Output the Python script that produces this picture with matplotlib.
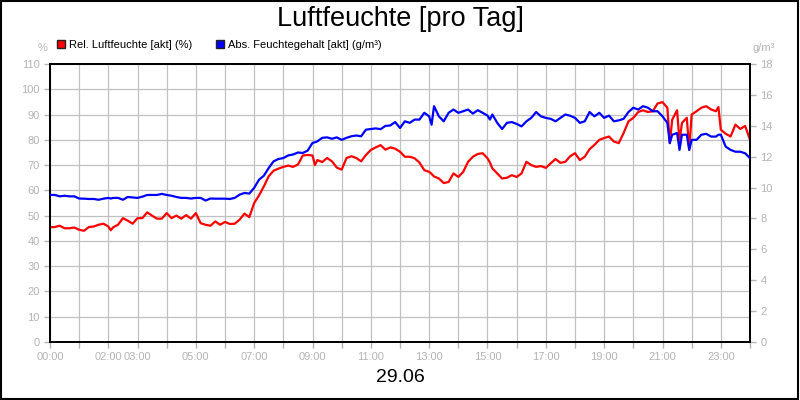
import matplotlib
matplotlib.use("Agg")
import matplotlib.pyplot as plt
from matplotlib.lines import Line2D
from matplotlib.patches import Rectangle
import numpy as np

plt.rcParams["font.family"] = ["Liberation Sans", "DejaVu Sans"]

# minutes since midnight
minutes = [
    0, 10, 20, 30, 40, 50, 60, 70, 80, 90, 100, 110, 120, 125, 130, 140, 150, 160, 170,
    180, 190, 200, 210, 220, 230, 240, 250, 260, 270, 280, 290, 300, 310, 320, 330, 340,
    350, 360, 370, 380, 390, 400, 410, 420, 430, 440, 450, 460, 470, 480, 490, 500, 510,
    520, 530, 540, 545, 550, 560, 570, 580, 590, 600, 610, 620, 630, 640, 650, 660, 670,
    680, 690, 700, 710, 720, 730, 740, 750, 760, 770, 780, 785, 790, 800, 810, 820, 830,
    840, 850, 860, 870, 880, 890, 900, 905, 910, 920, 930, 940, 950, 960, 970, 980, 990,
    1000, 1010, 1020, 1030, 1040, 1050, 1060, 1070, 1080, 1090, 1100, 1110, 1120, 1130,
    1140, 1150, 1160, 1170, 1180, 1190, 1200, 1210, 1220, 1230, 1240, 1250, 1260, 1270,
    1275, 1280, 1290, 1295, 1300, 1310, 1315, 1320, 1330, 1340, 1350, 1360, 1370, 1375,
    1380, 1390, 1400, 1410, 1420, 1430, 1440,
]

# relative humidity (%)
rel_humidity = [
    45.4, 45.5, 46.0, 45.0, 45.0, 45.3, 44.4, 44.0, 45.5, 45.7, 46.4, 46.8, 45.7, 44.2, 45.4,
    46.4, 49.0, 48.0, 46.8, 49.0, 49.0, 51.3, 50.0, 48.8, 48.8, 51.0, 49.0, 50.0, 48.8, 50.2,
    48.8, 51.0, 47.0, 46.4, 46.0, 47.7, 46.4, 47.5, 46.7, 46.8, 48.4, 50.8, 49.4, 55.0, 58.0,
    61.6, 65.6, 67.8, 68.6, 69.3, 69.8, 69.3, 70.2, 73.8, 74.0, 73.8, 70.0, 72.0, 71.2, 72.8,
    71.5, 69.0, 68.2, 72.8, 73.5, 72.8, 71.5, 74.0, 76.0, 77.0, 77.9, 76.1, 77.0, 76.5, 75.3,
    73.3, 73.3, 72.7, 71.0, 68.0, 67.3, 66.5, 65.5, 64.7, 62.9, 63.3, 66.7, 65.3, 67.3, 71.3,
    73.3, 74.4, 74.7, 72.7, 71.0, 68.7, 66.7, 64.7, 65.0, 66.0, 65.3, 66.7, 71.3, 70.0, 69.3,
    69.6, 68.9, 70.7, 72.4, 70.9, 71.3, 73.5, 74.7, 72.0, 73.3, 76.3, 78.0, 80.0, 80.7, 81.3,
    79.3, 78.7, 82.7, 87.3, 88.7, 91.0, 91.7, 91.0, 91.3, 94.4, 94.9, 92.7, 78.7, 88.0, 91.7,
    79.3, 86.7, 88.7, 76.0, 90.0, 91.3, 92.7, 93.3, 92.0, 91.3, 93.0, 84.0, 82.4, 81.3, 86.0,
    84.3, 85.5, 80.0,
]

# absolute moisture content (g/m³)
abs_moisture = [
    9.52, 9.52, 9.43, 9.47, 9.43, 9.43, 9.29, 9.28, 9.26, 9.26, 9.21, 9.28, 9.33, 9.29, 9.33,
    9.33, 9.21, 9.39, 9.36, 9.33, 9.41, 9.52, 9.52, 9.52, 9.59, 9.52, 9.47, 9.39, 9.33, 9.33,
    9.29, 9.33, 9.33, 9.16, 9.29, 9.28, 9.28, 9.28, 9.26, 9.33, 9.54, 9.65, 9.61, 9.98, 10.51,
    10.77, 11.27, 11.70, 11.85, 11.91, 12.08, 12.14, 12.27, 12.24, 12.39, 12.89, 12.93, 12.99,
    13.22, 13.25, 13.16, 13.25, 13.09, 13.22, 13.32, 13.37, 13.32, 13.75, 13.79, 13.83, 13.78,
    13.99, 14.02, 14.24, 13.86, 14.29, 14.19, 14.40, 14.40, 14.84, 14.61, 14.07, 15.27, 14.61,
    14.29, 14.84, 15.05, 14.84, 14.94, 15.05, 14.79, 15.01, 14.84, 14.66, 14.40, 14.73, 14.19,
    13.79, 14.19, 14.24, 14.12, 13.96, 14.29, 14.51, 14.89, 14.61, 14.51, 14.45, 14.29, 14.51,
    14.73, 14.65, 14.51, 14.19, 14.29, 14.89, 14.61, 14.84, 14.51, 14.66, 14.29, 14.35, 14.45,
    14.89, 15.17, 15.05, 15.27, 15.17, 14.94, 14.94, 14.61, 14.19, 12.88, 13.42, 13.53, 12.44,
    13.42, 13.42, 12.44, 13.09, 13.09, 13.42, 13.48, 13.30, 13.30, 13.42, 13.42, 12.65, 12.44,
    12.32, 12.32, 12.22, 11.90,
]

hour_labels = {0: "00:00", 2: "02:00", 3: "03:00", 5: "05:00", 7: "07:00", 9: "09:00",
               11: "11:00", 13: "13:00", 15: "15:00", 17: "17:00", 19: "19:00",
               21: "21:00", 23: "23:00"}

grey = "#b4b4b4"
hours = np.array(minutes) / 60.0

fig = plt.figure(figsize=(8, 4), dpi=100)
fig.patches.append(Rectangle((0.001, 0.002), 0.997, 0.995, transform=fig.transFigure,
                             fill=False, edgecolor="black", linewidth=1.5))
ax = fig.add_axes([0.0625, 0.145, 0.875, 0.695])
ax2 = ax.twinx()

ax.plot(hours, rel_humidity, color="#ff0000", linewidth=1.6, zorder=3)
ax2.plot(hours, abs_moisture, color="#0000ff", linewidth=1.6, zorder=3)

ax.set_xlim(0, 24)
ax.set_ylim(0, 110)
ax2.set_ylim(0, 18)
ax.set_yticks(np.arange(0, 111, 10))
ax2.set_yticks(np.arange(0, 19, 2))
ax.set_xticks(np.arange(0, 25, 1))
ax.set_xticklabels([hour_labels.get(h, "") for h in range(25)])
ax.grid(True, color="#c0c0c0", linewidth=0.9)
ax.set_axisbelow(True)

for a in (ax, ax2):
    a.tick_params(colors=grey, labelcolor=grey, labelsize=8, length=4, width=1)
    for s in a.spines.values():
        s.set_color("black")
        s.set_linewidth(1.3)
ax.tick_params(axis="x", pad=3)

fig.text(0.5, 0.952, "Luftfeuchte [pro Tag]", ha="center", va="center", fontsize=19.5)
fig.text(0.5, 0.055, "29.06", ha="center", va="center", fontsize=14)
fig.text(0.053, 0.88, "%", ha="center", va="center", fontsize=8, color=grey)
fig.text(0.955, 0.88, "g/m³", ha="center", va="center", fontsize=8, color=grey)

handles = [
    Line2D([], [], marker="s", linestyle="none", markersize=6, markerfacecolor="#ff0000",
           markeredgecolor="#202020", label="Rel. Luftfeuchte [akt] (%)"),
    Line2D([], [], marker="s", linestyle="none", markersize=6, markerfacecolor="#0000ff",
           markeredgecolor="#202020", label="Abs. Feuchtegehalt [akt] (g/m³)"),
]
fig.legend(handles=handles, loc="center left", bbox_to_anchor=(0.072, 0.888), ncol=2,
           frameon=False, fontsize=8, handlelength=0.7, handletextpad=0.3,
           columnspacing=2.2, borderaxespad=0, borderpad=0)

fig.savefig("out.png", dpi=100)
